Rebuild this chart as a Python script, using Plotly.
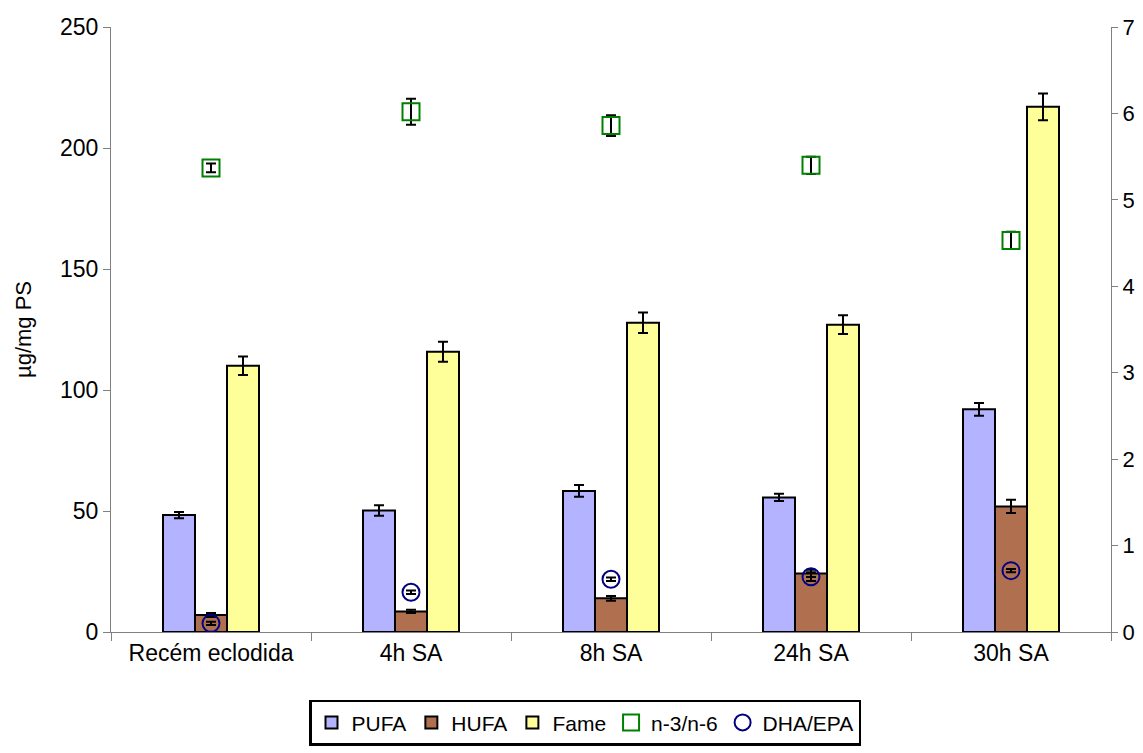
import plotly.graph_objects as go

categories = ["Recém eclodida", "4h SA", "8h SA", "24h SA", "30h SA"]

pufa = [48.3, 50.2, 58.3, 55.6, 92.0]
pufa_err = [1.3, 2.2, 2.4, 1.5, 2.6]
hufa = [7.0, 8.5, 13.9, 24.2, 51.9]
hufa_err = [0.8, 0.7, 1.0, 1.5, 2.7]
fame = [110.0, 115.8, 127.8, 127.0, 217.0]
fame_err = [3.8, 4.1, 4.2, 3.9, 5.5]
n3n6 = [5.37, 6.02, 5.86, 5.40, 4.53]
n3n6_err = [0.05, 0.15, 0.12, 0.10, 0.10]
dha_epa = [0.10, 0.46, 0.61, 0.64, 0.71]
dha_epa_err = [0.02, 0.02, 0.02, 0.05, 0.02]

font_family = "Liberation Sans, Arial, sans-serif"
err_style = dict(type="data", color="black", thickness=2, width=5)

fig = go.Figure()
for name, vals, errs, color in [
    ("PUFA", pufa, pufa_err, "#b3b3ff"),
    ("HUFA", hufa, hufa_err, "#b07050"),
    ("Fame", fame, fame_err, "#ffff99"),
]:
    fig.add_trace(go.Bar(
        x=categories, y=vals, name=name,
        marker=dict(color=color, line=dict(color="black", width=2)),
        error_y=dict(array=errs, **err_style),
    ))

fig.add_trace(go.Scatter(
    x=categories, y=n3n6, name="n-3/n-6", yaxis="y2", mode="markers",
    marker=dict(symbol="square-open", size=17, color="#008000", line=dict(width=2, color="#008000")),
    error_y=dict(array=n3n6_err, **err_style),
))
fig.add_trace(go.Scatter(
    x=categories, y=dha_epa, name="DHA/EPA", yaxis="y2", mode="markers",
    marker=dict(symbol="circle-open", size=17, color="#000080", line=dict(width=2, color="#000080")),
    error_y=dict(array=dha_epa_err, **err_style),
))

fig.update_layout(
    width=1135, height=745,
    margin=dict(l=103, r=32, t=19, b=121, autoexpand=False),
    paper_bgcolor="white", plot_bgcolor="white",
    barmode="group", bargap=0.52, bargroupgap=0,
    font=dict(family=font_family, size=23, color="black"),
    showlegend=True,
    legend=dict(
        orientation="h", x=0.474, xanchor="center", y=-0.112, yanchor="top",
        bordercolor="black", borderwidth=2.5, font=dict(size=21),
        itemwidth=30, tracegroupgap=0,
    ),
    xaxis=dict(
        type="category", showline=True, linecolor="#808080", linewidth=1,
        ticks="outside", tickson="boundaries", ticklen=8, tickcolor="#808080",
        showgrid=False, tickfont=dict(size=23), automargin=False,
    ),
    yaxis=dict(
        range=[0, 250], dtick=50, showline=True, linecolor="#808080", linewidth=1,
        ticks="outside", ticklen=7, tickcolor="#808080", showgrid=False, zeroline=False,
        title=dict(text="µg/mg PS", font=dict(size=22), standoff=22),
        tickfont=dict(size=23), automargin=False,
    ),
    yaxis2=dict(
        range=[0, 7], dtick=1, overlaying="y", side="right", showline=True,
        linecolor="#808080", linewidth=1, ticks="outside", ticklen=6, tickcolor="#808080",
        showgrid=False, zeroline=False, tickfont=dict(size=22), automargin=False,
    ),
)

fig.write_html("out.html")
